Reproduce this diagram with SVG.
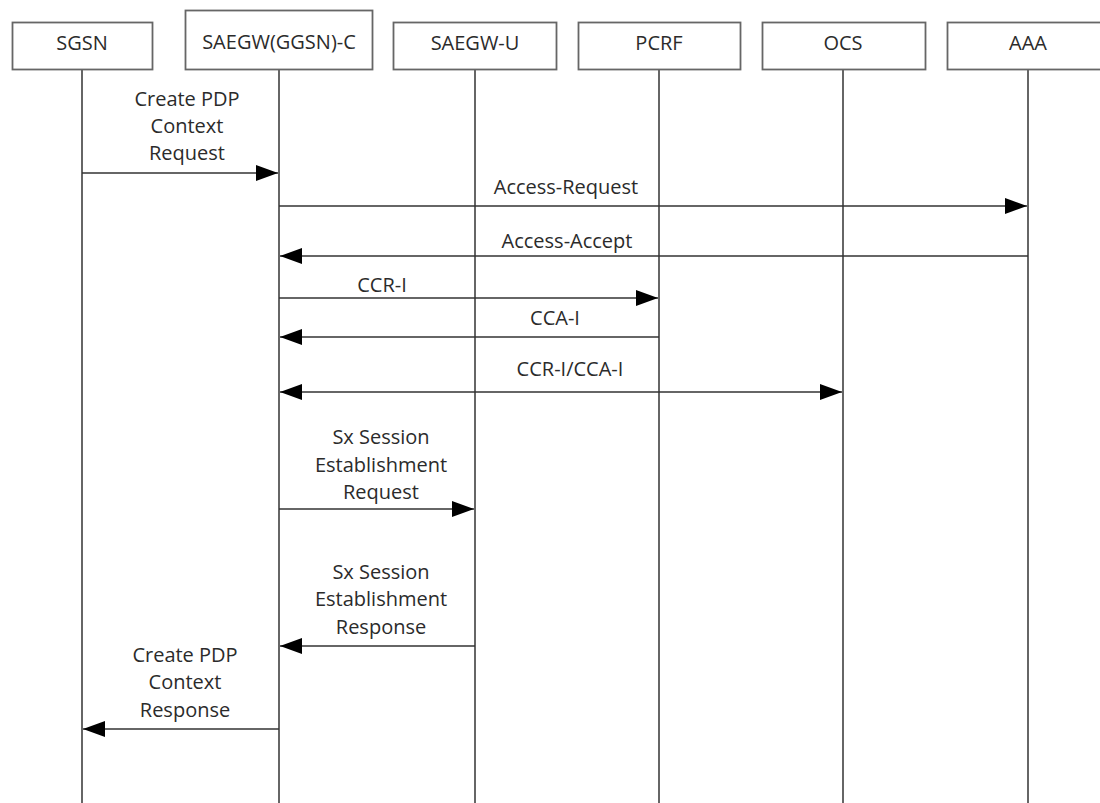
<svg xmlns="http://www.w3.org/2000/svg" width="1100" height="803" viewBox="0 0 1100 803">
<style>
.box{fill:#fff;stroke:#666;stroke-width:1.8}
.life{stroke:#666;stroke-width:2}
.msg{stroke:#333;stroke-width:1.6;fill:none}
text{font-family:"Open Sans","Noto Sans",sans-serif;font-size:20px;fill:#2b2b2b;text-anchor:middle}
</style>
<defs>
<marker id="ah" markerUnits="userSpaceOnUse" markerWidth="24" markerHeight="18" refX="22" refY="8" orient="auto-start-reverse">
<path d="M0,0 L22,8 L0,16 Z" fill="#000"/>
</marker>
</defs>
<rect width="1100" height="803" fill="#fff"/>
<g id="lifelines">
<line class="life" x1="82" y1="69" x2="82" y2="803"/>
<line class="life" x1="279" y1="69" x2="279" y2="803"/>
<line class="life" x1="475" y1="69" x2="475" y2="803"/>
<line class="life" x1="659" y1="69" x2="659" y2="803"/>
<line class="life" x1="843" y1="69" x2="843" y2="803"/>
<line class="life" x1="1028" y1="69" x2="1028" y2="803"/>
</g>
<g id="SGSN"><rect class="box" x="12.5" y="22.5" width="140" height="47"/><text x="82" y="50">SGSN</text></g>
<g id="SAEGW-C"><rect class="box" x="185.5" y="10.5" width="187" height="59"/><text x="279" y="49">SAEGW(GGSN)-C</text></g>
<g id="SAEGW-U"><rect class="box" x="393.5" y="22.5" width="163" height="47"/><text x="475" y="50">SAEGW-U</text></g>
<g id="PCRF"><rect class="box" x="578.5" y="22.5" width="162" height="47"/><text x="659" y="50">PCRF</text></g>
<g id="OCS"><rect class="box" x="762.5" y="22.5" width="163" height="47"/><text x="843" y="50">OCS</text></g>
<g id="AAA"><rect class="box" x="947.5" y="22.5" width="163" height="47"/><text x="1028" y="50">AAA</text></g>
<g id="connectors">
<line class="msg" x1="82" y1="173" x2="278" y2="173" marker-end="url(#ah)"/>
<line class="msg" x1="279" y1="206" x2="1027" y2="206" marker-end="url(#ah)"/>
<line class="msg" x1="1028" y1="256" x2="280" y2="256" marker-end="url(#ah)"/>
<line class="msg" x1="279" y1="298" x2="658" y2="298" marker-end="url(#ah)"/>
<line class="msg" x1="659" y1="337" x2="280" y2="337" marker-end="url(#ah)"/>
<line class="msg" x1="280" y1="392" x2="842" y2="392" marker-start="url(#ah)" marker-end="url(#ah)"/>
<line class="msg" x1="279" y1="509" x2="474" y2="509" marker-end="url(#ah)"/>
<line class="msg" x1="475" y1="646" x2="280" y2="646" marker-end="url(#ah)"/>
<line class="msg" x1="279" y1="729" x2="83" y2="729" marker-end="url(#ah)"/>
</g>
<g id="labels">
<text x="187" y="106">Create PDP</text>
<text x="187" y="133">Context</text>
<text x="187" y="160">Request</text>
<text x="566" y="194">Access-Request</text>
<text x="567" y="248">Access-Accept</text>
<text x="382" y="292">CCR-I</text>
<text x="555" y="325">CCA-I</text>
<text x="570" y="376">CCR-I/CCA-I</text>
<text x="381" y="444">Sx Session</text>
<text x="381" y="472">Establishment</text>
<text x="381" y="499">Request</text>
<text x="381" y="579">Sx Session</text>
<text x="381" y="606">Establishment</text>
<text x="381" y="634">Response</text>
<text x="185" y="662">Create PDP</text>
<text x="185" y="689">Context</text>
<text x="185" y="717">Response</text>
</g>
</svg>
